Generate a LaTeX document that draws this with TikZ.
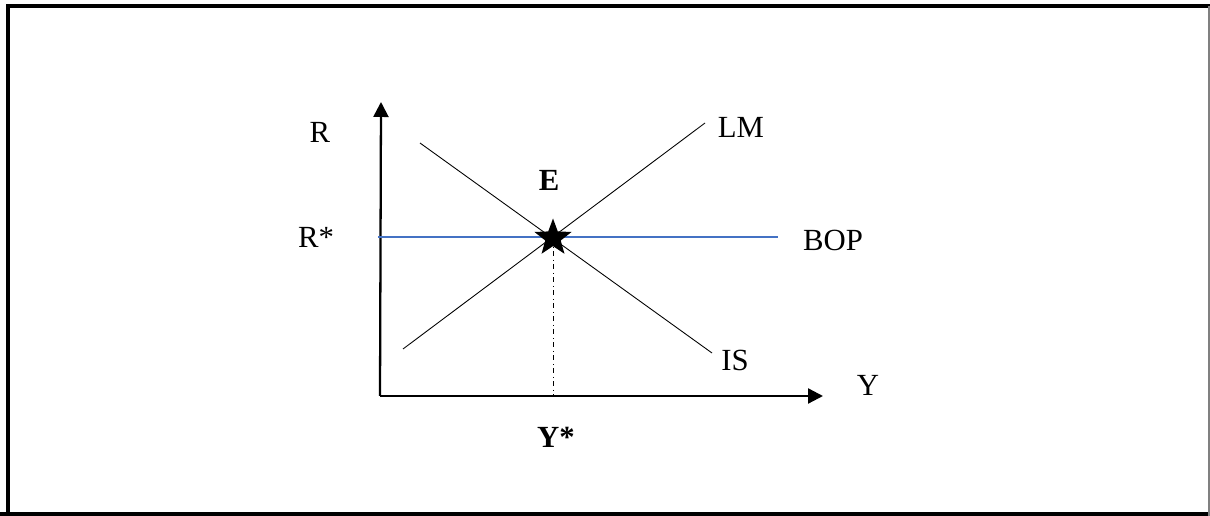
\documentclass[tikz,border=0pt]{standalone}
\usepackage{fontspec}
\setmainfont{Liberation Serif}
\usetikzlibrary{arrows.meta, positioning, shapes.geometric}
\definecolor{bopblue}{HTML}{4472C4}

\begin{document}
\begin{tikzpicture}[x=0.02cm, y=-0.02cm, every node/.style={font=\fontsize{17.5}{20}\selectfont},
  axisline/.style={line width=1.3pt, -{Triangle[length=0.3cm, width=0.3cm]}},
  curveline/.style={line width=0.5pt, black},
  boxline/.style={line width=2.6pt, black},
]
\useasboundingbox (0,0) rectangle (1210,516);
% frame
\draw[boxline] (8,516) -- (8,6) -- (1210,6);
\draw[boxline] (0,514.7) -- (1210,514.7);
\draw[gray, line width=0.8pt] (1209,6) -- (1209,516);
% axes
\coordinate (origin) at (380,396);
\coordinate (ytip) at (381,102);
\coordinate (xtip) at (823,396);
\draw[axisline] (origin) -- (ytip);
\draw[axisline] (origin) -- (xtip);
% curves
\coordinate (lm0) at (403,349); \coordinate (lm1) at (705,123);
\coordinate (is0) at (420,143); \coordinate (is1) at (712,353);
\coordinate (bop0) at (378,237); \coordinate (bop1) at (778,237);
\draw[curveline] (lm0) -- (lm1);
\draw[curveline] (is0) -- (is1);
\draw[bopblue, line width=0.6pt] (bop0) -- (bop1);
% equilibrium
\node[star, star points=5, star point ratio=2.4, fill=black, inner sep=0pt, minimum size=0.78cm] (eq) at (553,238) {};
\coordinate (yfoot) at (553,396);
\draw[dash dot, line width=0.5pt] (eq.center) -- (yfoot);
% labels
\node (rlab) at (320,132) {R};
\node (rstar) at (316,237) {R*};
\node (ylab) at (868,385) {Y};
\node (ystar) at (556,437) {\textbf{Y*}};
\node (elab) at (549,180) {\textbf{E}};
\node (lmlab) at (741,127) {LM};
\node (islab) at (735,360) {IS};
\node (boplab) at (833,240) {BOP};
\end{tikzpicture}
\end{document}
